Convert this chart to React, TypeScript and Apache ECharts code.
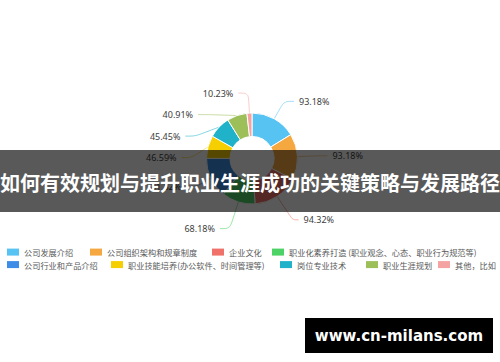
import React, { useEffect, useRef } from "react";
import * as echarts from "echarts";

const categories = [
  "公司发展介绍",
  "公司组织架构和规章制度",
  "企业文化",
  "职业化素养打造 (职业观念、心态、职业行为规范等)",
  "公司行业和产品介绍",
  "职业技能培养(办公软件、时间管理等)",
  "岗位专业技术",
  "职业生涯规划",
  "其他，比如",
];
const values = [93.18, 93.18, 94.32, 68.18, 81.82, 46.59, 45.45, 40.91, 10.23];
const colors = [
  "#56c3f2",
  "#f5a840",
  "#f0716a",
  "#4cd265",
  "#3d8de6",
  "#f6cf00",
  "#1fb2c8",
  "#9cbf5a",
  "#f4a2a2",
];
// leader line segment lengths per slice (style)
const lineLengths = [20, 20, 28, 28, 20, 20, 20, 20, 20];
const lineLengths2 = [10, 10, 6, 10, 10, 10, 10, 10, 10];
// legend layout: left edge and top of each entry (two rows)
const legendLefts = [7, 90, 212, 272, 7, 111, 280, 366, 438];
const legendTops = [248, 248, 248, 248, 260.5, 260.5, 260.5, 260.5, 260.5];
const title = "如何有效规划与提升职业生涯成功的关键策略与发展路径";
const watermark = "www.cn-milans.com";

export default function App() {
  const ref = useRef<HTMLDivElement>(null);
  useEffect(() => {
    if (!ref.current) return;
    const chart = echarts.init(ref.current, null, { renderer: "svg" });
    const legendText = {
      fontSize: 8.2,
      color: "#595959",
      fontFamily: "Noto Sans CJK SC",
    };
    chart.setOption({
      animation: false,
      backgroundColor: "#ffffff",
      color: colors,
      legend: categories.map((name, i) => ({
        data: [name],
        left: legendLefts[i],
        top: legendTops[i],
        orient: "horizontal",
        icon: "rect",
        itemWidth: 12,
        itemHeight: 7,
        itemStyle: { borderWidth: 0 },
        padding: 0,
        textStyle: legendText,
      })),
      series: [
        {
          type: "pie",
          center: [252, 158.5],
          radius: [22, 45.5],
          startAngle: 90,
          clockwise: true,
          itemStyle: { borderColor: "#ffffff", borderWidth: 1 },
          label: {
            show: true,
            fontSize: 9,
            lineHeight: 19.5,
            color: "#404040",
            fontFamily: "Noto Sans",
            formatter: (p: any) => p.value.toFixed(2) + "%",
          },
          labelLine: {
            show: true,
            length: 20,
            length2: 10,
            smooth: true,
            lineStyle: { width: 1, opacity: 0.55 },
          },
          emphasis: { disabled: true },
          data: categories.map((name, i) => ({
            name,
            value: values[i],
            labelLine: { length: lineLengths[i], length2: lineLengths2[i] },
          })),
        },
      ],
      graphic: [
        {
          type: "rect",
          shape: { x: 0, y: 150, width: 500, height: 62 },
          style: { fill: "rgba(0,0,0,0.65)" },
          z: 100,
        },
        {
          type: "text",
          x: 250,
          y: 182,
          z: 101,
          style: {
            text: title,
            fill: "#ffffff",
            fontSize: 20,
            fontWeight: "bold",
            fontFamily: "Noto Sans CJK SC",
            align: "center",
            verticalAlign: "middle",
          },
        },
        {
          type: "rect",
          shape: { x: 305, y: 318, width: 188, height: 35 },
          style: { fill: "#000000" },
          z: 100,
        },
        {
          type: "text",
          x: 399,
          y: 336,
          z: 101,
          style: {
            text: watermark,
            fill: "#ffffff",
            fontSize: 15,
            fontWeight: "bold",
            fontFamily: "DejaVu Sans",
            align: "center",
            verticalAlign: "middle",
          },
        },
      ],
    });
    return () => chart.dispose();
  }, []);
  return (
    <div
      ref={ref}
      style={{ position: "fixed", left: 0, top: 0, width: 500, height: 362 }}
    />
  );
}
